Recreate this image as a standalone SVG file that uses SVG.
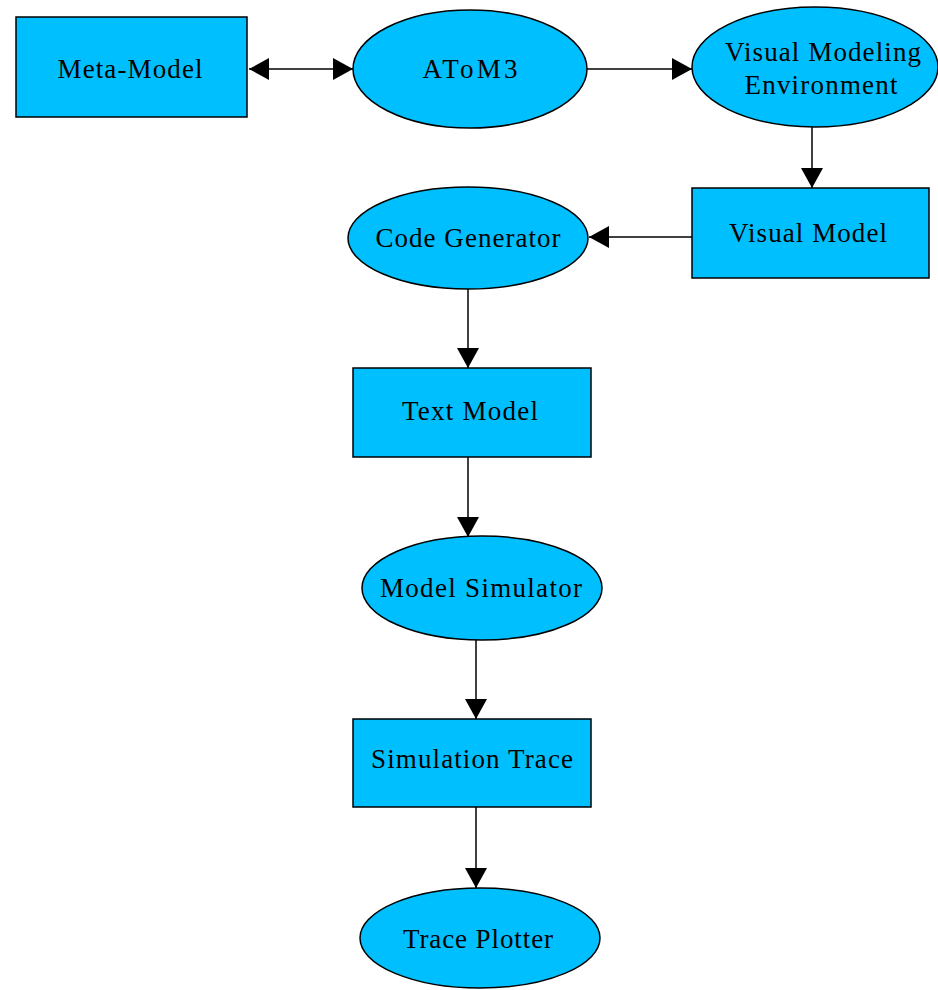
<svg xmlns="http://www.w3.org/2000/svg" width="938" height="990" viewBox="0 0 938 990">
  <style>
    .box { fill: #00BFFF; stroke: #000; stroke-width: 1.5; }
    .edge { stroke: #000; stroke-width: 1.5; fill: none; marker-end: url(#head); }
    .lbl { font-family: "Liberation Serif", "Times New Roman", serif; font-size: 27px; fill: #000; text-anchor: middle; }
  </style>
  <defs>
    <marker id="head" markerUnits="userSpaceOnUse" markerWidth="20" markerHeight="22" refX="20" refY="11" orient="auto-start-reverse">
      <path d="M0,0 L20,11 L0,22 Z" fill="#000"/>
    </marker>
  </defs>
  <rect width="938" height="990" fill="#fff"/>

  <g id="connectors">
    <line class="edge" x1="249" y1="69" x2="353" y2="69" marker-start="url(#head)"/>
    <line class="edge" x1="587" y1="69" x2="692" y2="69"/>
    <line class="edge" x1="812" y1="127" x2="812" y2="188"/>
    <line class="edge" x1="692" y1="237" x2="589" y2="237"/>
    <line class="edge" x1="468" y1="289" x2="468" y2="368"/>
    <line class="edge" x1="468" y1="457" x2="468" y2="537"/>
    <line class="edge" x1="476" y1="640" x2="476" y2="719"/>
    <line class="edge" x1="476" y1="807" x2="476" y2="888"/>
  </g>

  <g id="meta-model">
    <rect class="box" x="16" y="17" width="231" height="100"/>
    <text class="lbl" x="130" y="78" textLength="145" lengthAdjust="spacing">Meta-Model</text>
  </g>
  <g id="atom3">
    <ellipse class="box" cx="470" cy="69" rx="117" ry="59"/>
    <text class="lbl" x="470" y="78" textLength="95" lengthAdjust="spacing">AToM3</text>
  </g>
  <g id="visual-modeling-environment">
    <ellipse class="box" cx="815" cy="67" rx="123" ry="60"/>
    <text class="lbl" x="823" y="61" textLength="196" lengthAdjust="spacing">Visual Modeling</text>
    <text class="lbl" x="821" y="94" textLength="153" lengthAdjust="spacing">Environment</text>
  </g>
  <g id="visual-model">
    <rect class="box" x="692" y="188" width="237" height="90"/>
    <text class="lbl" x="808" y="242" textLength="158" lengthAdjust="spacing">Visual Model</text>
  </g>
  <g id="code-generator">
    <ellipse class="box" cx="468" cy="238" rx="120" ry="51"/>
    <text class="lbl" x="468" y="247" textLength="185" lengthAdjust="spacing">Code Generator</text>
  </g>
  <g id="text-model">
    <rect class="box" x="353" y="368" width="238" height="89"/>
    <text class="lbl" x="470" y="420" textLength="136" lengthAdjust="spacing">Text Model</text>
  </g>
  <g id="model-simulator">
    <ellipse class="box" cx="482" cy="588" rx="120" ry="52"/>
    <text class="lbl" x="481" y="597" textLength="202" lengthAdjust="spacing">Model Simulator</text>
  </g>
  <g id="simulation-trace">
    <rect class="box" x="353" y="719" width="238" height="88"/>
    <text class="lbl" x="472" y="768" textLength="202" lengthAdjust="spacing">Simulation Trace</text>
  </g>
  <g id="trace-plotter">
    <ellipse class="box" cx="480" cy="938" rx="120" ry="50"/>
    <text class="lbl" x="478" y="948" textLength="150" lengthAdjust="spacing">Trace Plotter</text>
  </g>
</svg>
